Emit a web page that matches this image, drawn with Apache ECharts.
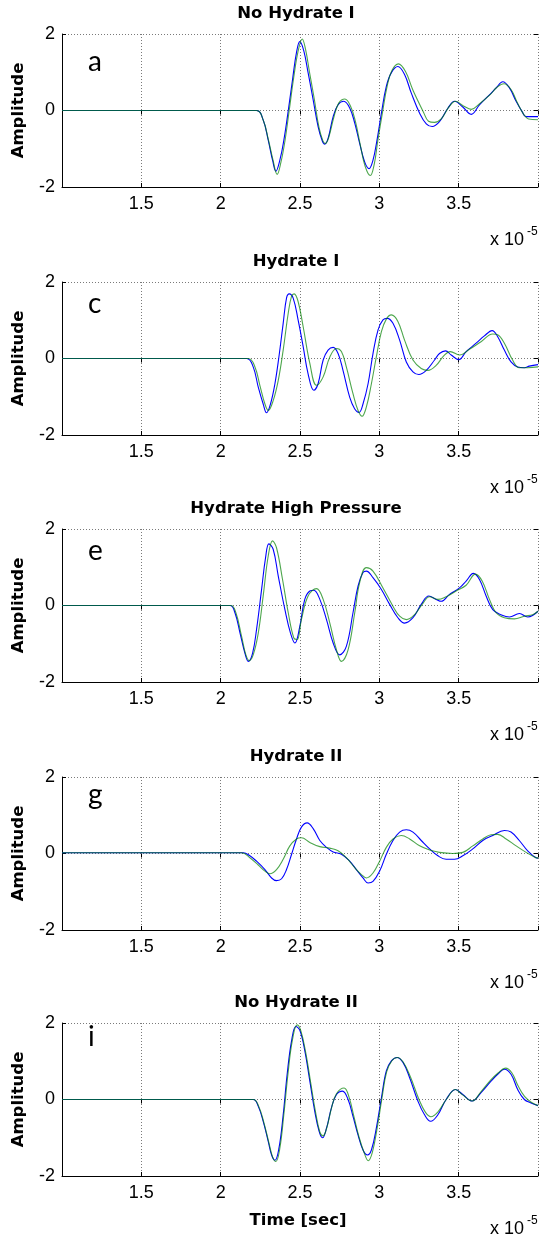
<!DOCTYPE html>
<html><head><meta charset="utf-8">
<script src="https://cdn.jsdelivr.net/npm/echarts@6/dist/echarts.min.js"></script>
<style>html,body{margin:0;padding:0;background:#fff}#c{width:541px;height:1240px}</style>
</head><body><div id="c"></div>
<script>
// ---- data (time in units of 1e-5 s, amplitude) ----
const panelTitles = ['No Hydrate I', 'Hydrate I', 'Hydrate High Pressure', 'Hydrate II', 'No Hydrate II'];
const panelLetters = ['a', 'c', 'e', 'g', 'i'];
const xTickLabels = [1.5, 2, 2.5, 3, 3.5];
const yTickLabels = [-2, 0, 2];
const xLabelText = 'Time [sec]';
const yLabelText = 'Amplitude';

const p1Blue = [[1.0,0],[2.226,0],[2.268,-0.25],[2.30,-0.78],[2.327,-1.30],[2.348,-1.59],[2.373,-1.30],[2.398,-0.78],[2.426,0],[2.453,0.81],[2.478,1.52],[2.499,1.80],[2.524,1.56],[2.551,0.99],[2.583,0.28],[2.614,-0.42],[2.64,-0.79],[2.656,-0.88],[2.677,-0.73],[2.709,-0.16],[2.74,0.15],[2.776,0.24],[2.814,0.06],[2.845,-0.33],[2.876,-0.86],[2.908,-1.35],[2.935,-1.52],[2.96,-1.30],[2.985,-0.78],[3.013,-0.07],[3.044,0.63],[3.076,0.99],[3.117,1.15],[3.159,0.94],[3.201,0.46],[3.254,-0.07],[3.296,-0.35],[3.333,-0.42],[3.379,-0.29],[3.432,0.06],[3.474,0.24],[3.526,0.09],[3.579,-0.10],[3.631,0.15],[3.694,0.41],[3.736,0.59],[3.778,0.75],[3.82,0.59],[3.862,0.24],[3.90,-0.03],[3.925,-0.16],[4.0,-0.16]];
const p1Green = [[1.0,0],[2.226,0],[2.268,-0.25],[2.30,-0.75],[2.33,-1.30],[2.356,-1.67],[2.38,-1.35],[2.405,-0.8],[2.432,0],[2.46,0.85],[2.488,1.55],[2.514,1.87],[2.535,1.6],[2.56,1.0],[2.59,0.3],[2.62,-0.45],[2.645,-0.8],[2.66,-0.86],[2.68,-0.72],[2.715,-0.15],[2.745,0.2],[2.783,0.30],[2.82,0.1],[2.85,-0.3],[2.88,-0.9],[2.91,-1.45],[2.943,-1.70],[2.968,-1.40],[2.99,-0.8],[3.02,-0.05],[3.05,0.65],[3.08,1.05],[3.12,1.22],[3.165,1.02],[3.21,0.55],[3.279,-0.05],[3.31,-0.28],[3.348,-0.31],[3.39,-0.22],[3.44,0.1],[3.48,0.24],[3.53,0.12],[3.58,0.03],[3.63,0.17],[3.70,0.42],[3.74,0.6],[3.785,0.70],[3.83,0.55],[3.87,0.2],[3.91,-0.1],[3.94,-0.22],[4.0,-0.24]];

const p2Blue = [[1.0,0],[2.164,0],[2.205,-0.22],[2.237,-0.75],[2.268,-1.19],[2.289,-1.42],[2.314,-1.19],[2.342,-0.66],[2.367,0.04],[2.394,0.92],[2.415,1.58],[2.432,1.69],[2.457,1.58],[2.488,1.01],[2.52,0.31],[2.551,-0.40],[2.587,-0.83],[2.614,-0.66],[2.646,-0.04],[2.677,0.22],[2.709,0.29],[2.74,0.13],[2.771,-0.31],[2.813,-1.01],[2.845,-1.32],[2.872,-1.41],[2.897,-1.19],[2.929,-0.66],[2.96,0.13],[2.992,0.75],[3.023,1.01],[3.05,1.05],[3.086,0.92],[3.128,0.48],[3.17,-0.09],[3.212,-0.35],[3.249,-0.42],[3.296,-0.31],[3.348,-0.04],[3.379,0.13],[3.417,0.20],[3.453,0.09],[3.501,-0.03],[3.547,0.18],[3.61,0.40],[3.662,0.59],[3.711,0.73],[3.746,0.57],[3.788,0.22],[3.83,-0.09],[3.872,-0.22],[3.914,-0.24],[3.945,-0.20],[4.0,-0.16]];
const p2Green = [[1.0,0],[2.174,0],[2.216,-0.22],[2.247,-0.70],[2.279,-1.19],[2.30,-1.36],[2.331,-1.10],[2.363,-0.57],[2.394,0.22],[2.426,1.19],[2.447,1.63],[2.463,1.69],[2.488,1.49],[2.52,0.83],[2.562,-0.13],[2.604,-0.70],[2.646,-0.48],[2.688,0.04],[2.73,0.26],[2.761,0.18],[2.792,-0.22],[2.834,-0.92],[2.866,-1.36],[2.891,-1.51],[2.918,-1.27],[2.95,-0.66],[2.981,0.04],[3.013,0.70],[3.044,1.03],[3.076,1.14],[3.117,0.97],[3.159,0.48],[3.212,-0.04],[3.264,-0.26],[3.306,-0.31],[3.358,-0.18],[3.41,0.09],[3.447,0.18],[3.505,0.09],[3.568,0.24],[3.641,0.44],[3.715,0.64],[3.746,0.62],[3.788,0.40],[3.84,-0.04],[3.882,-0.24],[3.935,-0.24],[4.0,-0.22]];

const p3Blue = [[1.0,0],[2.059,0],[2.09,-0.19],[2.122,-0.72],[2.153,-1.25],[2.174,-1.46],[2.201,-1.25],[2.226,-0.63],[2.258,0.42],[2.283,1.25],[2.304,1.61],[2.331,1.47],[2.363,0.77],[2.405,-0.11],[2.44,-0.72],[2.468,-0.98],[2.499,-0.54],[2.53,0.16],[2.562,0.38],[2.587,0.40],[2.625,0.16],[2.667,-0.37],[2.709,-0.98],[2.75,-1.29],[2.792,-1.07],[2.834,-0.19],[2.866,0.51],[2.897,0.86],[2.918,0.90],[2.96,0.73],[3.013,0.42],[3.065,0.03],[3.117,-0.32],[3.159,-0.46],[3.212,-0.32],[3.264,0.03],[3.312,0.25],[3.358,0.16],[3.39,0.11],[3.442,0.29],[3.505,0.46],[3.547,0.64],[3.593,0.84],[3.631,0.68],[3.673,0.25],[3.715,-0.11],[3.767,-0.24],[3.82,-0.30],[3.883,-0.21],[3.935,-0.30],[3.966,-0.26],[4.0,-0.15]];
const p3Green = [[1.0,0],[2.063,0],[2.096,-0.19],[2.132,-0.81],[2.159,-1.29],[2.18,-1.44],[2.205,-1.29],[2.237,-0.72],[2.268,0.25],[2.30,1.30],[2.327,1.69],[2.352,1.51],[2.39,0.68],[2.426,-0.19],[2.461,-0.85],[2.482,-0.89],[2.509,-0.37],[2.551,0.25],[2.604,0.44],[2.646,0.16],[2.688,-0.46],[2.73,-1.16],[2.761,-1.46],[2.803,-1.16],[2.845,-0.19],[2.876,0.60],[2.918,0.99],[2.96,0.90],[3.023,0.46],[3.086,-0.02],[3.128,-0.28],[3.17,-0.37],[3.222,-0.24],[3.27,0.03],[3.317,0.23],[3.369,0.16],[3.421,0.23],[3.484,0.38],[3.547,0.53],[3.606,0.82],[3.648,0.64],[3.694,0.16],[3.736,-0.19],[3.788,-0.32],[3.851,-0.35],[3.914,-0.28],[3.966,-0.24],[4.0,-0.15]];

const p4Blue = [[1.0,0.02],[2.143,0.02],[2.184,-0.06],[2.226,-0.20],[2.279,-0.42],[2.321,-0.64],[2.352,-0.71],[2.384,-0.66],[2.415,-0.42],[2.447,-0.02],[2.478,0.38],[2.509,0.69],[2.545,0.80],[2.583,0.65],[2.625,0.34],[2.667,0.16],[2.709,0.04],[2.761,-0.02],[2.813,-0.20],[2.855,-0.42],[2.897,-0.64],[2.929,-0.77],[2.96,-0.73],[3.002,-0.46],[3.044,-0.02],[3.086,0.34],[3.128,0.56],[3.17,0.62],[3.212,0.56],[3.264,0.34],[3.317,0.12],[3.369,-0.06],[3.421,-0.15],[3.474,-0.15],[3.526,-0.06],[3.589,0.12],[3.652,0.34],[3.715,0.47],[3.788,0.60],[3.83,0.56],[3.882,0.34],[3.935,0.07],[3.987,-0.11],[4.0,-0.12]];
const p4Green = [[1.0,0.02],[2.132,0.02],[2.184,-0.11],[2.237,-0.30],[2.279,-0.46],[2.31,-0.53],[2.352,-0.42],[2.394,-0.15],[2.436,0.20],[2.478,0.38],[2.509,0.41],[2.562,0.29],[2.625,0.18],[2.688,0.14],[2.74,0.07],[2.792,-0.11],[2.845,-0.37],[2.887,-0.55],[2.918,-0.64],[2.96,-0.51],[3.002,-0.20],[3.044,0.16],[3.086,0.38],[3.138,0.47],[3.191,0.38],[3.254,0.20],[3.317,0.09],[3.379,0.03],[3.463,0.0],[3.526,0.03],[3.589,0.20],[3.652,0.38],[3.704,0.49],[3.746,0.50],[3.799,0.38],[3.862,0.20],[3.925,0.03],[3.977,-0.09],[4.0,-0.12]];

const p5Blue = [[1.0,0],[2.205,0],[2.237,-0.18],[2.268,-0.57],[2.30,-1.10],[2.321,-1.45],[2.342,-1.59],[2.367,-1.28],[2.394,-0.40],[2.419,0.66],[2.447,1.54],[2.474,1.91],[2.499,1.81],[2.53,1.28],[2.562,0.48],[2.593,-0.31],[2.621,-0.84],[2.642,-1.00],[2.667,-0.75],[2.698,-0.22],[2.73,0.13],[2.768,0.22],[2.803,0.0],[2.834,-0.44],[2.866,-0.93],[2.897,-1.32],[2.925,-1.45],[2.95,-1.32],[2.981,-0.75],[3.013,0.04],[3.044,0.75],[3.076,1.01],[3.111,1.10],[3.149,0.97],[3.191,0.57],[3.243,-0.04],[3.285,-0.40],[3.323,-0.57],[3.369,-0.40],[3.421,0.0],[3.48,0.26],[3.526,0.13],[3.585,-0.04],[3.641,0.18],[3.704,0.48],[3.746,0.66],[3.788,0.79],[3.83,0.66],[3.872,0.26],[3.914,0.0],[3.956,-0.09],[4.0,-0.16]];
const p5Green = [[1.0,0],[2.205,0],[2.24,-0.18],[2.272,-0.6],[2.305,-1.15],[2.327,-1.50],[2.348,-1.62],[2.372,-1.30],[2.398,-0.40],[2.424,0.66],[2.452,1.55],[2.482,1.95],[2.505,1.80],[2.535,1.25],[2.567,0.45],[2.598,-0.33],[2.625,-0.85],[2.645,-0.95],[2.67,-0.72],[2.70,-0.20],[2.73,0.15],[2.778,0.30],[2.81,0.05],[2.84,-0.45],[2.872,-0.98],[2.905,-1.40],[2.93,-1.60],[2.956,-1.38],[2.985,-0.78],[3.016,0.02],[3.046,0.72],[3.08,1.02],[3.113,1.10],[3.15,0.98],[3.195,0.60],[3.25,0.0],[3.29,-0.33],[3.325,-0.45],[3.37,-0.32],[3.425,0.02],[3.48,0.26],[3.525,0.12],[3.585,-0.04],[3.64,0.20],[3.70,0.50],[3.75,0.70],[3.795,0.82],[3.835,0.70],[3.875,0.35],[3.915,0.08],[3.96,-0.08],[4.0,-0.16]];

const blueSeries = [p1Blue, p2Blue, p3Blue, p4Blue, p5Blue];
const greenSeries = [p1Green, p2Green, p3Green, p4Green, p5Green];

// ---- layout ----
const tops = [34, 282, 529, 777, 1023];
const H = 153, L = 62, W = 478;
const letterDy = [28, 22, 22, 18, 14];
const tickFont = 'Liberation Sans';
const boldFont = 'DejaVu Sans';

const grid = [], xAxis = [], yAxis = [], series = [], graphic = [];
tops.forEach((top, i) => {
  grid.push({left: L, top: top, width: W, height: H, containLabel: false});
  xAxis.push({
    type: 'value', gridIndex: i, min: 1, max: 4, interval: 0.5, position: 'bottom',
    axisLine: {show: true, onZero: false, lineStyle: {color: '#000', width: 1}},
    axisTick: {show: true, inside: true, length: 4, lineStyle: {color: '#000'}},
    axisLabel: {show: true, margin: 8, color: '#000', fontSize: 18, fontFamily: tickFont,
      formatter: v => xTickLabels.some(t => Math.abs(t - v) < 1e-9) ? String(v) : ''},
    splitLine: {show: true, lineStyle: {color: '#7a7a7a', type: [1, 2], width: 1}}
  });
  xAxis.push({
    type: 'value', gridIndex: i, min: 1, max: 4, interval: 0.5, position: 'top',
    axisLine: {show: false}, axisLabel: {show: false}, splitLine: {show: false},
    axisTick: {show: true, inside: true, length: 4, lineStyle: {color: '#000'}}
  });
  yAxis.push({
    type: 'value', gridIndex: i, min: -2, max: 2, interval: 2, position: 'left',
    axisLine: {show: true, onZero: false, lineStyle: {color: '#000', width: 1}},
    axisTick: {show: true, inside: true, length: 4, lineStyle: {color: '#000'}},
    axisLabel: {show: true, margin: 7, color: '#000', fontSize: 18, fontFamily: tickFont,
      formatter: v => yTickLabels.includes(v) ? String(v) : ''},
    splitLine: {show: true, lineStyle: {color: '#7a7a7a', type: [1, 2], width: 1}}
  });
  yAxis.push({
    type: 'value', gridIndex: i, min: -2, max: 2, interval: 2, position: 'right',
    axisLine: {show: false}, axisLabel: {show: false}, splitLine: {show: false},
    axisTick: {show: true, inside: true, length: 4, lineStyle: {color: '#000'}}
  });
  series.push({
    type: 'line', xAxisIndex: 2 * i, yAxisIndex: 2 * i, data: blueSeries[i],
    showSymbol: false, smooth: 0.4, lineStyle: {color: '#0000ff', width: 1.1}, z: 2
  });
  series.push({
    type: 'line', xAxisIndex: 2 * i, yAxisIndex: 2 * i, data: greenSeries[i],
    showSymbol: false, smooth: 0.4, lineStyle: {color: '#008000', width: 1.1, opacity: 0.7}, z: 3
  });
  // title
  graphic.push({type: 'text', x: 296, y: top - 20, silent: true,
    style: {text: panelTitles[i], fill: '#000', font: 'bold 16.5px "' + boldFont + '"',
      textAlign: 'center', textVerticalAlign: 'middle', align: 'center', verticalAlign: 'middle'}});
  // y label
  graphic.push({type: 'text', x: 19, y: top + H / 2, rotation: Math.PI / 2, silent: true,
    style: {text: yLabelText, fill: '#000', font: 'bold 16.5px "' + boldFont + '"',
      textAlign: 'center', textVerticalAlign: 'middle', align: 'center', verticalAlign: 'middle'}});
  // panel letter
  graphic.push({type: 'text', x: 88, y: top + letterDy[i], silent: true,
    style: {text: panelLetters[i], fill: '#000', font: '28px Lato',
      textAlign: 'left', textVerticalAlign: 'middle', align: 'left', verticalAlign: 'middle'}});
  // exponent
  graphic.push({type: 'text', x: 490, y: top + H + 53, silent: true,
    style: {text: 'x 10', fill: '#000', font: '18px "' + tickFont + '"',
      textAlign: 'left', textVerticalAlign: 'middle', align: 'left', verticalAlign: 'middle'}});
  graphic.push({type: 'text', x: 527, y: top + H + 45, silent: true,
    style: {text: '-5', fill: '#000', font: '12px "' + tickFont + '"',
      textAlign: 'left', textVerticalAlign: 'middle', align: 'left', verticalAlign: 'middle'}});
});
graphic.push({type: 'text', x: 298, y: 1221, silent: true,
  style: {text: xLabelText, fill: '#000', font: 'bold 16.5px "' + boldFont + '"',
    textAlign: 'center', textVerticalAlign: 'middle', align: 'center', verticalAlign: 'middle'}});

const chart = echarts.init(document.getElementById('c'), null, {renderer: 'canvas'});
chart.setOption({animation: false, backgroundColor: '#fff', grid, xAxis, yAxis, series, graphic});
</script>
</body></html>
